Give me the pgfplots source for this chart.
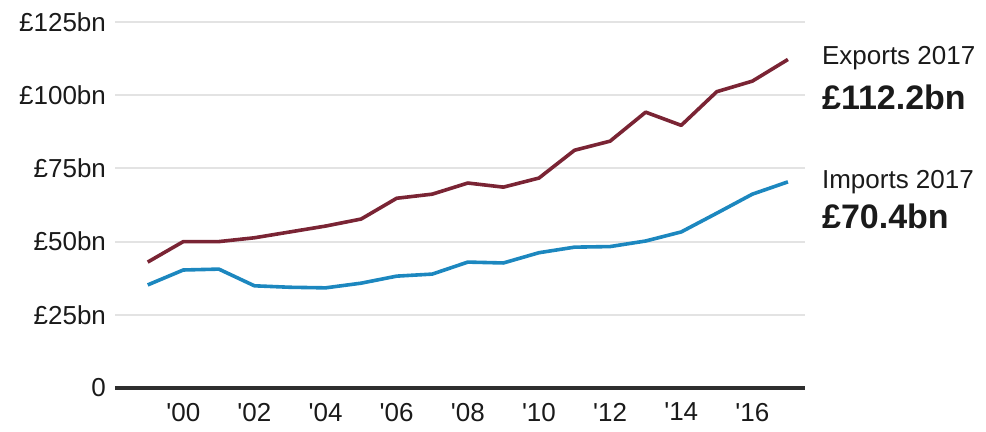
\documentclass[border=0pt]{standalone}
\usepackage{fontspec}
\setmainfont{Liberation Sans}[Ligatures=TeXOff]
\usepackage{pgfplots}
\pgfplotsset{compat=1.18}
\definecolor{expc}{HTML}{7A2434}
\definecolor{impc}{HTML}{1C87BF}
\definecolor{gridc}{HTML}{E3E3E3}
\definecolor{zeroc}{HTML}{2E2E2E}
\definecolor{txtc}{HTML}{1A1A1A}
\begin{document}
\begin{tikzpicture}
\begin{axis}[name=ax, scale only axis, width=345pt, height=183pt,
  xmin=1998.08, xmax=2017.48, ymin=0, ymax=125,
  axis lines*=left,
  x axis line style={zeroc, line width=1.8pt, -},
  y axis line style={draw=none},
  major tick length=0pt, tick style={draw=none},
  ymajorgrids, grid style={gridc, line width=1pt},
  ytick={0,25,50,75,100,125},
  yticklabels={0,£25bn,£50bn,£75bn,£100bn,£125bn},
  xtick={2000,2002,2004,2006,2008,2010,2012,2014,2016},
  xticklabels={'00,'02,'04,'06,'08,'10,'12,'14,'16},
  /pgf/number format/assume math mode=true,
  ticklabel style={font=\fontsize{13}{15}\selectfont, text=txtc},
  yticklabel style={anchor=east, xshift=-1pt},
  xticklabel style={anchor=north, yshift=-4pt},
  clip=false,
]
\addplot[expc, line width=1.8pt, line join=round] coordinates {
(1999,43.0) (2000,50.0) (2001,50.0) (2002,51.3) (2003,53.3) (2004,55.3) (2005,57.7)
(2006,64.8) (2007,66.2) (2008,70.0) (2009,68.6) (2010,71.7) (2011,81.2) (2012,84.3)
(2013,94.2) (2014,89.7) (2015,101.2) (2016,104.8) (2017,112.2)};
\addplot[impc, line width=1.8pt, line join=round] coordinates {
(1999,35.2) (2000,40.3) (2001,40.6) (2002,34.9) (2003,34.4) (2004,34.2) (2005,35.8)
(2006,38.2) (2007,38.9) (2008,43.0) (2009,42.7) (2010,46.2) (2011,48.1) (2012,48.3)
(2013,50.2) (2014,53.3) (2015,59.7) (2016,66.2) (2017,70.4)};
\node[anchor=base west, inner sep=0pt, text=txtc, font=\fontsize{13}{15}\selectfont] at (rel axis cs:1.0242,0.8825) {Exports 2017};
\node[anchor=base west, inner sep=0pt, text=txtc, font=\fontsize{17}{19}\selectfont\bfseries] at (rel axis cs:1.0242,0.7596) {£112.2bn};
\node[anchor=base west, inner sep=0pt, text=txtc, font=\fontsize{13}{15}\selectfont] at (rel axis cs:1.0242,0.5464) {Imports 2017};
\node[anchor=base west, inner sep=0pt, text=txtc, font=\fontsize{17}{19}\selectfont\bfseries] at (rel axis cs:1.0242,0.4370) {£70.4bn};
\end{axis}
\path ([xshift=-57.5pt,yshift=-22pt]ax.south west) rectangle ([xshift=435.5pt,yshift=194pt]ax.south west);
\end{tikzpicture}
\end{document}
